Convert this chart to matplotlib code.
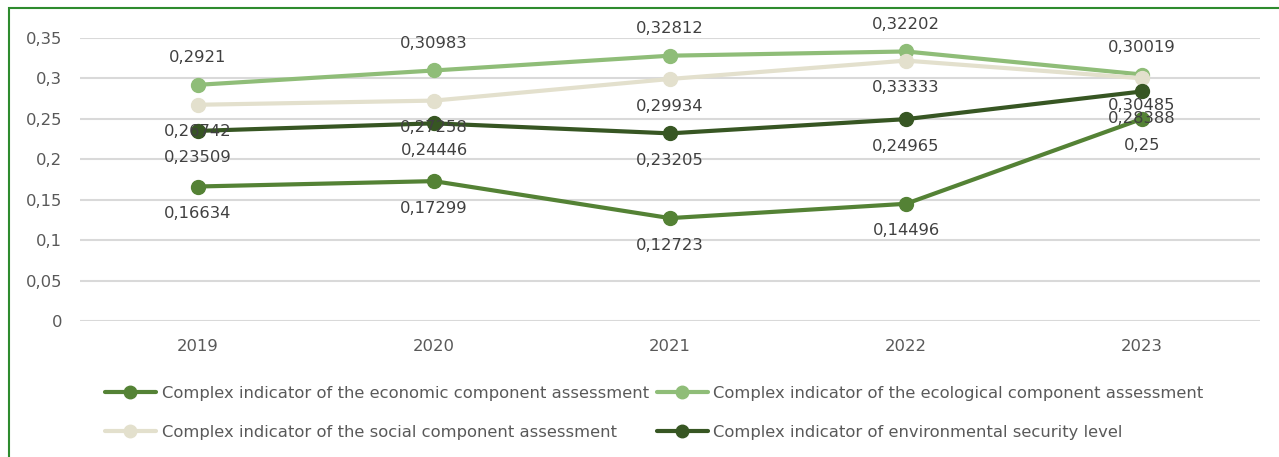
import matplotlib
matplotlib.use("Agg")
import matplotlib.pyplot as plt
from matplotlib.patches import Rectangle

years = ["2019", "2020", "2021", "2022", "2023"]
economic = [0.16634, 0.17299, 0.12723, 0.14496, 0.25]
ecological = [0.2921, 0.30983, 0.32812, 0.33333, 0.30485]
social = [0.26742, 0.27258, 0.29934, 0.32202, 0.30019]
security = [0.23509, 0.24446, 0.23205, 0.24965, 0.28388]

economic_labels = ["0,16634", "0,17299", "0,12723", "0,14496", "0,25"]
ecological_labels = ["0,2921", "0,30983", "0,32812", "0,32202", "0,30019"]
social_labels = ["0,26742", "0,27258", "0,29934", "0,33333", "0,30485"]
security_labels = ["0,23509", "0,24446", "0,23205", "0,24965", "0,28388"]

yticks = [0, 0.05, 0.1, 0.15, 0.2, 0.25, 0.3, 0.35]
ytick_labels = ["0", "0,05", "0,1", "0,15", "0,2", "0,25", "0,3", "0,35"]

names = [
    "Complex indicator of the economic component assessment",
    "Complex indicator of the ecological component assessment",
    "Complex indicator of the social component assessment",
    "Complex indicator of environmental security level",
]
colors = ["#548235", "#8FBD78", "#E3E0CD", "#375623"]

plt.rcParams['font.family'] = ['DejaVu Sans']
W, H = 1279, 457
fig = plt.figure(figsize=(W / 100, H / 100), dpi=100)
ax = fig.add_axes([80 / W, (H - 321) / H, (1260 - 80) / W, 283 / H])

x = list(range(len(years)))
series = [
    (economic, economic_labels, -1),
    (ecological, ecological_labels, 1),
    (social, social_labels, -1),
    (security, security_labels, -1),
]
order = [2, 1, 0, 3]
handles = [None] * 4
for i in order:
    vals, labs, pos = series[i]
    h, = ax.plot(x, vals, color=colors[i], lw=3, marker='o', markersize=10,
                 solid_capstyle='round', zorder=3 + i, label=names[i])
    handles[i] = h
for i in order:
    vals, labs, pos = series[i]
    for xi, v, lab in zip(x, vals, labs):
        ax.annotate(lab, (xi, v), xytext=(0, 19.5 * pos), textcoords='offset points',
                    ha='center', va='center', fontsize=11.8, color='#404040', zorder=10)

ax.set_xlim(-0.5, 4.5)
ax.set_ylim(0, 0.35)
ax.set_yticks(yticks)
ax.set_yticklabels(ytick_labels)
ax.set_xticks(x)
ax.set_xticklabels(years)
ax.tick_params(axis='both', length=0, labelsize=11.8, labelcolor='#595959')
ax.tick_params(axis='y', pad=13)
ax.tick_params(axis='x', pad=13)
ax.grid(axis='y', color='#D9D9D9', lw=1.5)
ax.set_axisbelow(True)
for s in ax.spines.values():
    s.set_visible(False)

leg_handles = [handles[0], handles[2], handles[1], handles[3]]
leg = fig.legend(handles=leg_handles, loc='center left', bbox_to_anchor=(105 / W, 1 - 413 / H),
                 ncol=2, frameon=False, fontsize=11.8, handlelength=3.1,
                 handletextpad=0.35, columnspacing=0.5, labelspacing=1.45,
                 borderpad=0, borderaxespad=0, markerscale=0.9)
for t in leg.get_texts():
    t.set_color('#595959')

fig.patches.append(Rectangle((9 / W, -0.1), 1.2, 1.1 - 8 / H, transform=fig.transFigure,
                             fill=False, edgecolor='#2E8B2E', lw=1.5))

fig.savefig("out.png", dpi=100)
